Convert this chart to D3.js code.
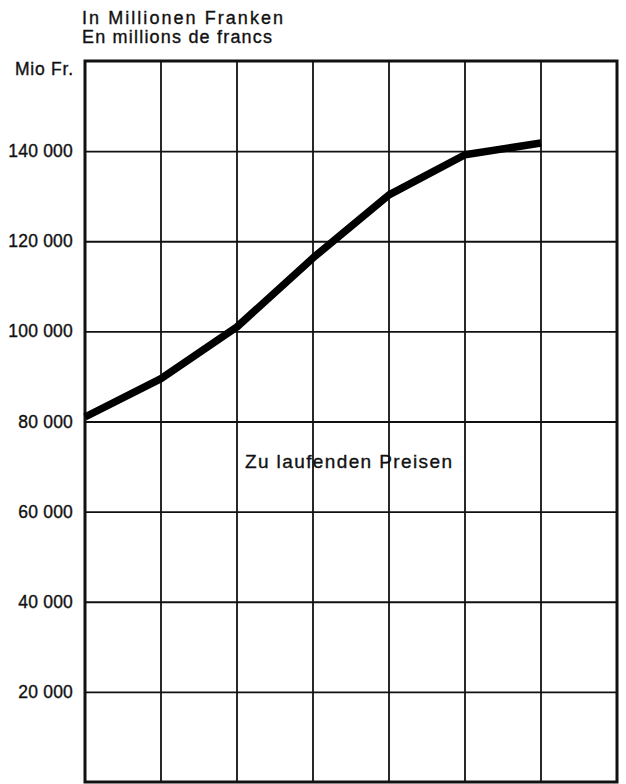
<!DOCTYPE html>
<html>
<head>
<meta charset="utf-8">
<script src="https://cdn.jsdelivr.net/npm/d3@7"></script>
<style>
  html, body { margin: 0; padding: 0; background: #fff; }
  svg { display: block; }
  text { font-family: "Liberation Sans", Arial, Helvetica, sans-serif; fill: #111; stroke: #111; stroke-width: 0.35px; }
</style>
</head>
<body>
<svg id="chart" width="626" height="784"></svg>
<script>
// Gross values, million francs, one per period
const periods = [0, 1, 2, 3, 4, 5, 6];
const values = [81000, 89500, 101000, 116300, 130300, 139200, 141800];
const yTicks = [20000, 40000, 60000, 80000, 100000, 120000, 140000];
const columnCount = 7;
const titleLines = ["In Millionen Franken", "En millions de francs"];
const titleWidths = [201, 190];
const unitLabel = "Mio Fr.";
const seriesLabel = "Zu laufenden Preisen";

const svg = d3.select("#chart");
const plotLeft = 85, plotRight = 617, plotTop = 61, plotBottom = 782;

const x = d3.scaleLinear().domain([0, columnCount]).range([plotLeft, plotRight]);
const y = d3.scaleLinear().domain([0, 160000]).range([plotBottom, plotTop]);

const fmt = d => d3.format(",")(d).replace(/,/g, " ");

// vertical grid
svg.append("g")
  .selectAll("line")
  .data(d3.range(1, columnCount))
  .join("line")
  .attr("x1", d => x(d)).attr("x2", d => x(d))
  .attr("y1", plotTop).attr("y2", plotBottom)
  .attr("stroke", "#111").attr("stroke-width", 1.8);

// horizontal grid + labels
const yAxis = svg.append("g")
  .attr("transform", `translate(${plotLeft},0)`)
  .call(d3.axisLeft(y).tickValues(yTicks).tickFormat(fmt)
    .tickSize(-(plotRight - plotLeft)).tickPadding(12));
yAxis.select(".domain").remove();
yAxis.selectAll(".tick line").attr("stroke", "#111").attr("stroke-width", 1.8);
yAxis.selectAll(".tick text")
  .attr("font-size", 17.5)
  .attr("letter-spacing", 0.2)
  .attr("font-family", "\"Liberation Sans\", Arial, sans-serif")
  .attr("fill", "#111");

// frame
svg.append("rect")
  .attr("x", plotLeft).attr("y", plotTop)
  .attr("width", plotRight - plotLeft).attr("height", plotBottom - plotTop)
  .attr("fill", "none").attr("stroke", "#111").attr("stroke-width", 3);

// series line
const line = d3.line()
  .x((d, i) => x(periods[i]))
  .y(d => y(d));
svg.append("path")
  .datum(values)
  .attr("d", line)
  .attr("fill", "none")
  .attr("stroke", "#000")
  .attr("stroke-width", 7.5)
  .attr("stroke-linejoin", "round");

// titles
svg.append("g").selectAll("text")
  .data(titleLines)
  .join("text")
  .attr("x", 82)
  .attr("y", (d, i) => 24 + i * 19)
  .attr("font-size", 18)
  .attr("textLength", (d, i) => titleWidths[i])
  .attr("lengthAdjust", "spacing")
  .text(d => d);

svg.append("text")
  .attr("x", 73).attr("y", 75)
  .attr("text-anchor", "end")
  .attr("font-size", 17.5)
  .attr("textLength", 58)
  .attr("lengthAdjust", "spacing")
  .text(unitLabel);

svg.append("text")
  .attr("x", 245).attr("y", 468)
  .attr("font-size", 19)
  .attr("textLength", 207)
  .attr("lengthAdjust", "spacing")
  .text(seriesLabel);
</script>
</body>
</html>
